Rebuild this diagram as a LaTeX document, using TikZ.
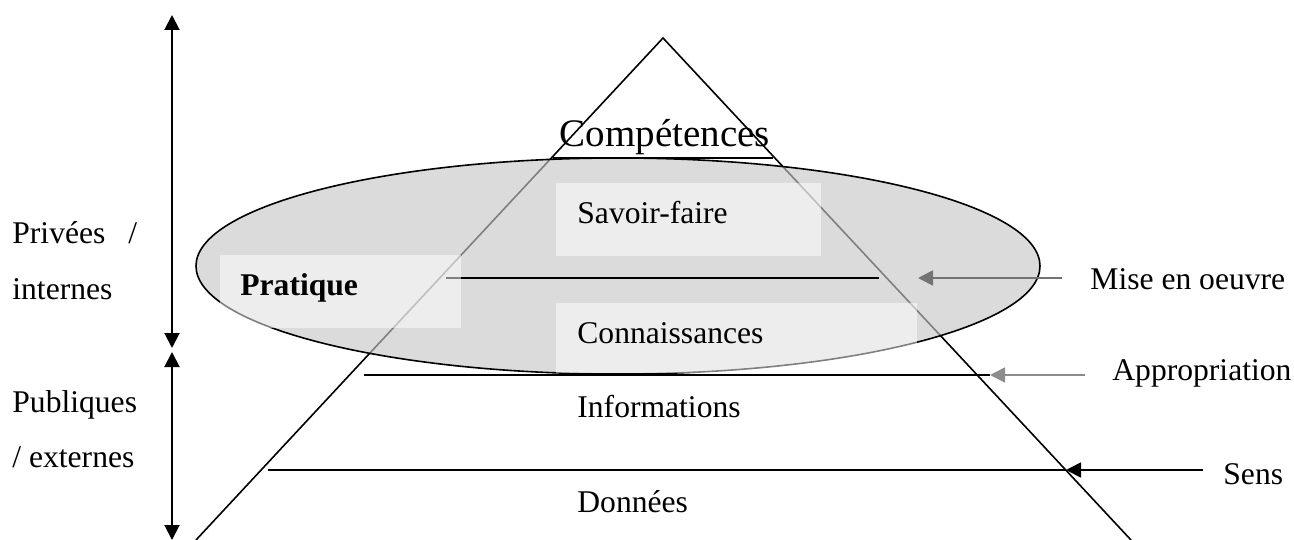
\documentclass[tikz,border=0pt]{standalone}
\usepackage{fontspec}
\setmainfont{Liberation Serif}
\usetikzlibrary{arrows.meta}
\tikzset{>={Triangle[length=7.5pt,width=7.5pt]}}
\tikzset{
  lbl/.style={anchor=base west, inner sep=0pt, font=\fontsize{15.8}{19}\selectfont},
  veil/.style={fill=white, fill opacity=0.5},
  level/.style={line width=0.9pt},
}

\begin{document}
\begin{tikzpicture}[x=0.5pt,y=-0.5pt]
    \useasboundingbox (0,0) rectangle (1294,540);

    % Pyramid
    \coordinate (top) at (663,38);
    \coordinate (botL) at (196,540);
    \coordinate (botR) at (1131,540);
    \draw[line width=0.8pt] (botL) -- (top) -- (botR);

    % Ellipse
    \filldraw[fill=black!22, fill opacity=0.64, draw=black, line width=0.8pt] (618,266) ellipse [x radius=422, y radius=108];

    % Levels
    \draw[level] (553,158) -- (773,158);
    \draw[level] (446,278) -- (879,278);
    \draw[level] (364,375) -- (990,375);
    \draw[level] (268,470) -- (1066,470);

    % Boxes
    \fill[veil] (556,183) rectangle (821,256);
    \fill[veil] (220,255) rectangle (461,328);
    \fill[veil] (556,303) rectangle (917,373);

    % Labels
    \node[lbl, anchor=base, font=\fontsize{19.5}{23}\selectfont] (comp) at (665,147) {Compétences};
    \node[lbl] (savoir) at (577,223) {Savoir-faire};
    \node[lbl] (pratique) at (240,295) {\bfseries Pratique};
    \node[lbl] (connais) at (577,343) {Connaissances};
    \node[lbl] (info) at (577,417) {Informations};
    \node[lbl] (donnees) at (577,512) {Données};

    \node[lbl] (mise) at (1090,289) {Mise en oeuvre};
    \node[lbl] (appro) at (1112,380) {Appropriation};
    \node[lbl] (sens) at (1223,484) {Sens};

    \node[lbl] (privees) at (12,243) {Privées\hspace{11.5pt}/};
    \node[lbl] (internes) at (12,299) {internes};
    \node[lbl] (publiques) at (12,412) {Publiques};
    \node[lbl] (externes) at (12,467) {/ externes};

    % Side arrows
    \coordinate (miseA) at (1062,278);
    \coordinate (miseB) at (918,278);
    \coordinate (approA) at (1085,375);
    \coordinate (approB) at (990,375);
    \coordinate (sensA) at (1203,470);
    \coordinate (sensB) at (1066,470);
    \draw[->, black!55, line width=0.9pt] (miseA) -- (miseB);
    \draw[->, black!45, line width=0.9pt] (approA) -- (approB);
    \draw[->, line width=0.9pt] (sensA) -- (sensB);

    % Vertical arrows
    \coordinate (privTop) at (172,15);
    \coordinate (privBot) at (172,348);
    \coordinate (pubTop) at (172,352);
    \coordinate (pubBot) at (172,540);
    \draw[<->, line width=1pt] (privBot) -- (privTop);
    \draw[<->, line width=1pt] (pubTop) -- (pubBot);

\end{tikzpicture}
\end{document}
